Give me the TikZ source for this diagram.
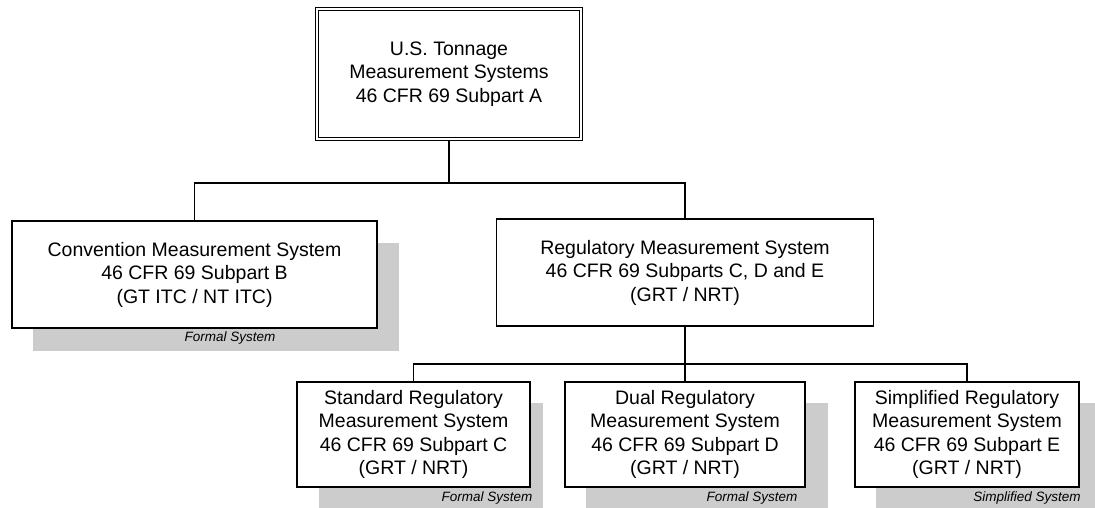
\documentclass[tikz,border=0pt]{standalone}
\usepackage{fontspec}
\setmainfont{Liberation Sans}
\definecolor{shadecol}{HTML}{CCCCCC}
\begin{document}
\begin{tikzpicture}[x=1pt,y=-1pt,
  box/.style={draw=black,fill=white,line width=1.2pt,rectangle,inner sep=0pt,align=center,
    font=\fontsize{19.5}{23.5}\selectfont},
  conn/.style={draw=black,line width=1.2pt},
  shadowbox/.style={fill=shadecol},
  tag/.style={font=\fontsize{13.5}{16}\selectfont\itshape,inner sep=0pt}]
\useasboundingbox (0,0) rectangle (1095,508);
% shadows
\fill[shadowbox] (33,243) rectangle (399,351);
\fill[shadowbox] (319,403) rectangle (543,508);
\fill[shadowbox] (586,403) rectangle (828,508);
\fill[shadowbox] (876,403) rectangle (1095,508);
% shadow labels
\node[tag] (l1) at (230,338) {Formal System};
\node[tag] (l2) at (487,498) {Formal System};
\node[tag] (l3) at (752,498) {Formal System};
\node[tag] (l4) at (1027,498) {Simplified System};
% boxes
\node[box,double,double distance=2pt,line width=1.1pt,minimum width=264pt,minimum height=130pt] (top) at (449,74)
  {U.S. Tonnage\\Measurement Systems\\46 CFR 69 Subpart A};
\node[box,minimum width=365pt,minimum height=107pt] (conv) at (194.5,274.5)
  {Convention Measurement System\\46 CFR 69 Subpart B\\(GT ITC / NT ITC)};
\node[box,minimum width=377pt,minimum height=107pt] (reg) at (685,272.5)
  {Regulatory Measurement System\\46 CFR 69 Subparts C, D and E\\(GRT / NRT)};
\node[box,minimum width=233pt,minimum height=105pt] (std) at (413.5,434.5)
  {Standard Regulatory\\Measurement System\\46 CFR 69 Subpart C\\(GRT / NRT)};
\node[box,minimum width=240pt,minimum height=105pt] (dual) at (685,434.5)
  {Dual Regulatory\\Measurement System\\46 CFR 69 Subpart D\\(GRT / NRT)};
\node[box,minimum width=224pt,minimum height=105pt] (simp) at (967,434.5)
  {Simplified Regulatory\\Measurement System\\46 CFR 69 Subpart E\\(GRT / NRT)};
% junctions
\coordinate (j1) at (449,183);
\coordinate (j2) at (685,364);
\draw[conn] (top.south) -- (j1);
\draw[conn] (conv.north) |- (j1) -| (reg.north);
\draw[conn] (reg.south) -- (j2);
\draw[conn] (std.north) |- (j2) -| (simp.north);
\draw[conn] (j2) -- (dual.north);
\end{tikzpicture}
\end{document}
